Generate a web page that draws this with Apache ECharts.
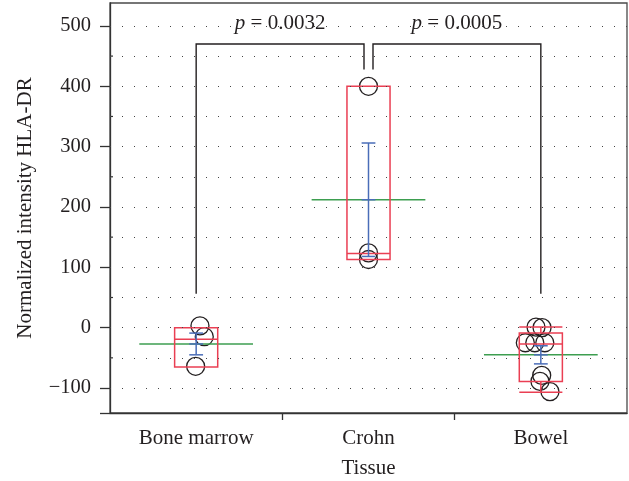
<!DOCTYPE html>
<html><head><meta charset="utf-8">
<script src="https://cdn.jsdelivr.net/npm/echarts@6/dist/echarts.min.js"></script>
<style>html,body{margin:0;padding:0;background:#fff}#c{width:629px;height:481px}</style>
</head><body><div id="c"></div>
<script>
const categories = ['Bone marrow', 'Crohn', 'Bowel'];
const boneMarrow = [3, -15, -64];
const crohn = [400, 124, 113];
const bowel = [1, 0, -25, -25, -25, -79, -89, -106];
const jitterBoneMarrow = [0.022, 0.047, -0.003];
const jitterCrohn = [0, 0, 0];
const jitterBowel = [-0.028, 0.007, -0.09, -0.035, 0.023, 0.005, -0.005, 0.053];
const boxLow = [-65, 113, -89];
const boxMedian = [-19, 123, -27];
const boxHigh = [0, 400, -9];
const whiskerLow = [null, null, -107];
const whiskerHigh = [null, null, 1];
const means = [-27, 212, -45];
const ses = [18, 94, 15];
const yTicks = [-100, 0, 100, 200, 300, 400, 500];
const yMinorTicks = [-50, 50, 150, 250, 350, 450];
const gridLines = [-100, -50, 0, 50, 100, 150, 200, 250, 300, 350, 400, 450, 500];
const comparisons = [[0, 1], [1, 2]];
const pValues = ['0.0032', '0.0005'];
const bracketTop = [470, 470];
const bracketLegEnds = [[56, 428], [428, 56]];

const Y_MIN = -141.4, Y_MAX = 538;
const FONT = "'Liberation Serif', 'DejaVu Serif', serif";
const TXT = '#231f20';
const RED = '#ea3f53', GREEN = '#3d9e50', BLUE = '#4a6db8';

const groups = [boneMarrow, crohn, bowel];
const jitters = [jitterBoneMarrow, jitterCrohn, jitterBowel];
const pointData = [];
groups.forEach((g, i) => g.forEach((v, k) => pointData.push([i + jitters[i][k], v])));

function seg(x1, y1, x2, y2, color, w) {
  return { type: 'line', shape: { x1, y1, x2, y2 }, style: { stroke: color, lineWidth: w } };
}

const chart = echarts.init(document.getElementById('c'), null, { renderer: 'canvas' });
chart.setOption({
  animation: false,
  backgroundColor: '#fff',
  grid: { left: 110, right: 2, top: 3, bottom: 68, show: true, borderColor: '#4a4a4a', borderWidth: 1.3,
    containLabel: false, outerBoundsMode: 'none' },
  xAxis: {
    type: 'value', min: -0.5, max: 2.5,
    axisLine: { show: true, onZero: false, lineStyle: { color: '#333', width: 1.3 } },
    axisTick: { show: true, customValues: [0.5, 1.5], length: 7, lineStyle: { color: '#333', width: 1.3 } },
    axisLabel: { show: true, customValues: [0, 1, 2], formatter: v => categories[Math.round(v)] || '', margin: 15,
      fontSize: 21, fontFamily: FONT, color: TXT },
    splitLine: { show: false },
    name: 'Tissue', nameLocation: 'middle', nameGap: 45,
    nameTextStyle: { fontSize: 21, fontFamily: FONT, color: TXT }
  },
  yAxis: {
    type: 'value', min: Y_MIN, max: Y_MAX,
    axisLine: { show: true, onZero: false, lineStyle: { color: '#333', width: 1.3 } },
    axisTick: { show: true, customValues: [Y_MIN].concat(yTicks), length: 10, lineStyle: { color: '#333', width: 1.3 } },
    axisLabel: { show: true, customValues: yTicks, margin: 19,
      formatter: v => v < 0 ? '\u2212' + Math.abs(v) : String(v),
      fontSize: 20.5, fontFamily: FONT, color: TXT },
    splitLine: { show: false },
    name: 'Normalized intensity HLA-DR', nameLocation: 'middle', nameGap: 74,
    nameTextStyle: { fontSize: 21, fontFamily: FONT, color: TXT }
  },
  series: [
    {
      type: 'scatter', data: pointData, symbol: 'circle', symbolSize: 18,
      itemStyle: { color: 'rgba(0,0,0,0)', borderColor: TXT, borderWidth: 1.3, opacity: 1 },
      z: 2, silent: true,
      markLine: {
        silent: true, symbol: ['none', 'none'], label: { show: false },
        lineStyle: { type: [1, 11], color: '#444', width: 1 },
        data: gridLines.map(v => ({ yAxis: v }))
      }
    },
    {
      type: 'custom', z: 1, silent: true,
      data: yMinorTicks.map(v => [-0.5, v]),
      renderItem: (params, api) => {
        const p = api.coord([-0.5, api.value(1)]);
        return seg(p[0], p[1], p[0] + 3, p[1], '#333', 1.2);
      }
    },
    {
      type: 'custom', z: 3, silent: true,
      data: categories.map((c, i) => [i, means[i]]),
      renderItem: (params, api) => {
        const i = params.dataIndex;
        const cx = api.coord([i, 0])[0];
        const y = v => api.coord([i, v])[1];
        const halfBox = api.size([0.25, 0])[0] / 2;
        const halfMean = api.size([0.66, 0])[0] / 2;
        const halfCap = api.size([0.08, 0])[0] / 2;
        const ch = [];
        ch.push(seg(cx - halfMean, y(means[i]), cx + halfMean, y(means[i]), GREEN, 1.5));
        ch.push({ type: 'rect', shape: { x: cx - halfBox, y: y(boxHigh[i]), width: 2 * halfBox, height: y(boxLow[i]) - y(boxHigh[i]) },
          style: { fill: 'none', stroke: RED, lineWidth: 1.5 } });
        ch.push(seg(cx - halfBox, y(boxMedian[i]), cx + halfBox, y(boxMedian[i]), RED, 1.5));
        if (whiskerHigh[i] != null) {
          ch.push(seg(cx, y(boxHigh[i]), cx, y(whiskerHigh[i]), RED, 1.5));
          ch.push(seg(cx - halfBox, y(whiskerHigh[i]), cx + halfBox, y(whiskerHigh[i]), RED, 1.5));
        }
        if (whiskerLow[i] != null) {
          ch.push(seg(cx, y(boxLow[i]), cx, y(whiskerLow[i]), RED, 1.5));
          ch.push(seg(cx - halfBox, y(whiskerLow[i]), cx + halfBox, y(whiskerLow[i]), RED, 1.5));
        }
        const top = means[i] + ses[i], bot = means[i] - ses[i];
        ch.push(seg(cx, y(top), cx, y(bot), BLUE, 1.5));
        [top, means[i], bot].forEach(v => ch.push(seg(cx - halfCap, y(v), cx + halfCap, y(v), BLUE, 1.5)));
        return { type: 'group', children: ch };
      }
    },
    {
      type: 'custom', z: 4, silent: true,
      data: comparisons.map((c, k) => [(c[0] + c[1]) / 2, bracketTop[k]]),
      renderItem: (params, api) => {
        const k = params.dataIndex;
        const [a, b] = comparisons[k];
        const shared = idx => comparisons.filter(c => c.includes(idx)).length > 1;
        const gap = 4.5;
        const xa = api.coord([a, 0])[0] + (shared(a) ? gap : 0);
        const xb = api.coord([b, 0])[0] - (shared(b) ? gap : 0);
        const yTop = api.coord([0, bracketTop[k]])[1];
        const ya = api.coord([0, bracketLegEnds[k][0]])[1];
        const yb = api.coord([0, bracketLegEnds[k][1]])[1];
        return { type: 'group', children: [
          { type: 'polyline', shape: { points: [[xa, ya], [xa, yTop], [xb, yTop], [xb, yb]] },
            style: { stroke: TXT, lineWidth: 1.4, fill: 'none' } },
          { type: 'text', x: (xa + xb) / 2, y: yTop - 21,
            style: { text: '{i|p} = ' + pValues[k], fontSize: 21, fontFamily: FONT, fill: TXT,
              align: 'center', verticalAlign: 'middle', backgroundColor: 'rgba(255,255,255,0)',
              rich: { i: { fontStyle: 'italic', fontSize: 21, fontFamily: FONT, fill: TXT } } } }
        ] };
      }
    }
  ]
});
</script>
</body></html>
